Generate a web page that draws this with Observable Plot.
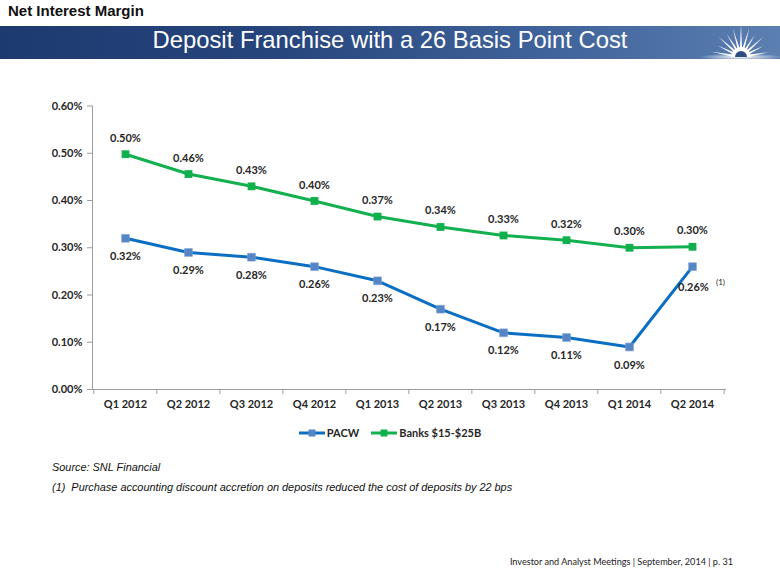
<!DOCTYPE html>
<html>
<head>
<meta charset="utf-8">
<script src="https://cdn.jsdelivr.net/npm/d3@7"></script>
<script src="https://cdn.jsdelivr.net/npm/@observablehq/plot@0.6"></script>
<style>
  html, body { margin: 0; padding: 0; background: #fff; }
  #page { position: relative; width: 780px; height: 585px; overflow: hidden; font-family: "Liberation Sans", Arial, sans-serif; }
  #kicker { position: absolute; left: 8px; top: 2px; font-size: 15px; line-height: 17px; font-weight: bold; color: #111; }
  #banner { position: absolute; left: 0; top: 26px; width: 780px; height: 33px;
            background: linear-gradient(to right, #1d3a70 0%, #26457c 35%, #3f639a 70%, #5b7fb1 100%); }
  #title { position: absolute; left: 0; width: 780px; top: -3px; text-align: center; color: #fff; font-size: 23.8px; line-height: 33px; }
  #logo { position: absolute; left: 700px; top: -2px; }
  #chart { position: absolute; left: 0; top: 90px; }
  #legend { position: absolute; left: 0; top: 426px; width: 780px; display: flex; justify-content: center; gap: 12px;
            font-family: Lato, sans-serif; font-weight: 700; font-size: 11px; color: #262626; padding-left: 0px; box-sizing: border-box; }
  #legend .item { display: flex; align-items: center; gap: 2px; line-height: 14px; }
  #source, #note { position: absolute; left: 52px; font-size: 10.9px; line-height: 13px; font-style: italic; color: #111; }
  #source { top: 461px; }
  #note { top: 481px; }
  #footer { position: absolute; right: 47px; top: 555px; font-family: Lato, sans-serif; font-size: 9.1px; line-height: 13px; color: #222; }
</style>
</head>
<body>
<div id="page">
  <div id="kicker">Net Interest Margin</div>
  <div id="banner">
    <div id="title">Deposit Franchise with a 26 Basis Point Cost</div>
    <svg id="logo" width="80" height="36"></svg>
  </div>
  <div id="chart"></div>
  <div id="legend"></div>
  <div id="source">Source: SNL Financial</div>
  <div id="note">(1)&nbsp;&nbsp;Purchase accounting discount accretion on deposits reduced the cost of deposits by 22 bps</div>
  <div id="footer">Investor and Analyst Meetings | September, 2014 | p. 31</div>
</div>
<script>
// ---- Data ----
const quarters = ["Q1 2012", "Q2 2012", "Q3 2012", "Q4 2012", "Q1 2013", "Q2 2013", "Q3 2013", "Q4 2013", "Q1 2014", "Q2 2014"];
const pacw = [0.32, 0.29, 0.28, 0.26, 0.23, 0.17, 0.12, 0.11, 0.09, 0.26];
const banks = [0.498, 0.456, 0.430, 0.399, 0.366, 0.344, 0.326, 0.316, 0.300, 0.302];
const seriesNames = ["PACW", "Banks $15-$25B"];
const yTicks = [0, 0.1, 0.2, 0.3, 0.4, 0.5, 0.6];
const footnoteMark = "(1)";

// ---- Build rows ----
const pacwRows = quarters.map((q, i) => ({quarter: q, series: seriesNames[0], value: pacw[i], i}));
const banksRows = quarters.map((q, i) => ({quarter: q, series: seriesNames[1], value: banks[i], i}));
const last = quarters.length - 1;
const fmt = v => v.toFixed(2) + "%";

const colors = {
  pacwLine: "#0a6fc2", pacwMark: "#5585c5",
  banksLine: "#13b04f", banksMark: "#10b04c"
};

const W = 780, H = 330, ML = 92, MR = 55;
const step = (W - ML - MR) / quarters.length;

const chart = Plot.plot({
  width: W, height: H,
  marginLeft: ML, marginRight: MR, marginTop: 15.5, marginBottom: 31,
  style: {fontFamily: "Lato, sans-serif", fontSize: "11px", fontWeight: 700, color: "#262626", background: "transparent", overflow: "visible"},
  x: {type: "point", domain: quarters, padding: 0.5, label: null},
  y: {domain: [0, 0.6], label: null},
  marks: [
    Plot.frame({anchor: "left", stroke: "#9c9c9c"}),
    Plot.frame({anchor: "bottom", stroke: "#9c9c9c"}),
    Plot.axisY({ticks: yTicks, tickFormat: fmt, tickSize: 5, tickPadding: 5, stroke: "#9c9c9c", fill: "#262626", label: null}),
    Plot.axisX({tickSize: 0, tickPadding: 11, fill: "#262626", label: null}),
    Plot.axisX({tickSize: 5, dx: -step / 2, tickFormat: () => "", stroke: "#9c9c9c", label: null}),
    Plot.axisX({ticks: [quarters[last]], tickSize: 5, dx: step / 2, tickFormat: () => "", stroke: "#9c9c9c", label: null}),
    Plot.line(banksRows, {x: "quarter", y: "value", stroke: colors.banksLine, strokeWidth: 3}),
    Plot.line(pacwRows, {x: "quarter", y: "value", stroke: colors.pacwLine, strokeWidth: 3}),
    Plot.dot(banksRows, {x: "quarter", y: "value", symbol: "square", r: 4.4, fill: colors.banksMark}),
    Plot.dot(pacwRows, {x: "quarter", y: "value", symbol: "square", r: 4.4, fill: colors.pacwMark, stroke: "#7a9fd3", strokeWidth: 0.6}),
    Plot.text(banksRows, {x: "quarter", y: "value", text: d => fmt(d.value), dy: -16, fill: "#262626"}),
    Plot.text(pacwRows.filter(d => d.i !== last), {x: "quarter", y: "value", text: d => fmt(d.value), dy: 18, fill: "#262626"}),
    Plot.text(pacwRows.filter(d => d.i === last), {x: "quarter", y: "value", text: d => fmt(d.value), dy: 21, dx: 1, fill: "#262626"}),
    Plot.text(pacwRows.filter(d => d.i === last), {x: "quarter", y: "value", text: () => footnoteMark, dy: 16, dx: 28, fontSize: 8, fontWeight: 400, fill: "#262626"})
  ]
});
document.getElementById("chart").appendChild(chart);

// ---- Legend ----
const legend = document.getElementById("legend");
[[seriesNames[0], colors.pacwLine, colors.pacwMark], [seriesNames[1], colors.banksLine, colors.banksMark]].forEach(([name, line, mark]) => {
  const item = document.createElement("div");
  item.className = "item";
  item.innerHTML = `<svg width="26" height="10"><line x1="0" x2="26" y1="5" y2="5" stroke="${line}" stroke-width="3"/><rect x="9.5" y="1.5" width="7" height="7" fill="${mark}"/></svg><span>${name}</span>`;
  legend.appendChild(item);
});

// ---- Logo (decorative sunburst) ----
(function () {
  const svg = d3.select("#logo");
  const cx = 41, cy = 33;
  const glow = svg.append("defs").append("radialGradient").attr("id", "glow");
  glow.append("stop").attr("offset", "0%").attr("stop-color", "#fff").attr("stop-opacity", 1);
  glow.append("stop").attr("offset", "100%").attr("stop-color", "#fff").attr("stop-opacity", 0);
  svg.append("ellipse").attr("cx", cx).attr("cy", cy).attr("rx", 42).attr("ry", 3.5).attr("fill", "url(#glow)");
  const rays = [[10, 28], [26, 25], [42, 30], [58, 26], [74, 30], [90, 33], [106, 29], [122, 27], [138, 30], [154, 26], [170, 30]];
  rays.forEach(([a, len]) => {
    const r = a * Math.PI / 180, w = 0.16;
    const p = [[cx + 7 * Math.cos(r - w), cy - 7 * Math.sin(r - w)], [cx + len * Math.cos(r), cy - len * Math.sin(r)], [cx + 7 * Math.cos(r + w), cy - 7 * Math.sin(r + w)]];
    svg.append("polygon").attr("points", p.map(d => d.join(",")).join(" ")).attr("fill", "#fff");
  });
  svg.append("path").attr("d", `M${cx - 10},${cy} A10,10 0 0 1 ${cx + 10},${cy} Z`).attr("fill", "#fff");
  svg.append("path").attr("d", `M${cx - 6},${cy} A6,6 0 0 1 ${cx + 6},${cy} Z`).attr("fill", "#2c4c82");
})();
</script>
</body>
</html>
